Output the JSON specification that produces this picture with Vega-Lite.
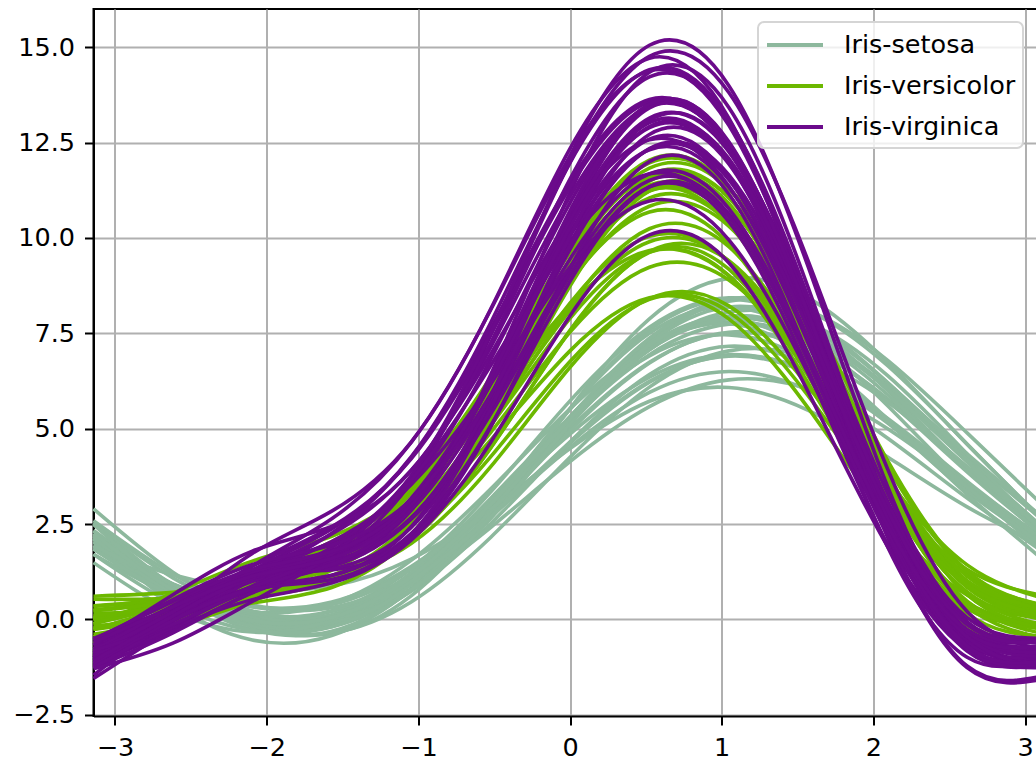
{
"$schema": "https://vega.github.io/schema/vega-lite/v6.json",
"width": 953,
"height": 707,
"autosize": {"type": "none"},
"padding": {"left": 93.5, "top": 9, "right": 0, "bottom": 45},
"background": "white",
"config": {
  "font": "DejaVu Sans",
  "view": {"stroke": "#000", "strokeWidth": 2},
  "axis": {"labelFont": "DejaVu Sans", "labelFontSize": 25.5, "labelColor": "#000", "tickColor": "#000", "tickWidth": 2, "tickSize": 9, "domainColor": "#000", "domainWidth": 2, "gridColor": "#b0b0b0", "gridWidth": 2, "title": null, "labelFlush": false, "labelOverlap": false},
  "legend": {"strokeWidth": 2}
},
"data": {"values": [
{"species":"Iris-setosa","id":1,"t":-3.1416,"y":2.21},{"species":"Iris-setosa","id":1,"t":-2.618,"y":0.82},{"species":"Iris-setosa","id":1,"t":-2.0944,"y":0.05},{"species":"Iris-setosa","id":1,"t":-1.5708,"y":0.11},{"species":"Iris-setosa","id":1,"t":-1.0472,"y":1.10},{"species":"Iris-setosa","id":1,"t":-0.5236,"y":2.90},{"species":"Iris-setosa","id":1,"t":0,"y":5.01},{"species":"Iris-setosa","id":1,"t":0.5236,"y":6.74},{"species":"Iris-setosa","id":1,"t":1.0472,"y":7.51},{"species":"Iris-setosa","id":1,"t":1.5708,"y":7.11},{"species":"Iris-setosa","id":1,"t":2.0944,"y":5.76},{"species":"Iris-setosa","id":1,"t":2.618,"y":3.97},{"species":"Iris-setosa","id":1,"t":3.1416,"y":2.21},
{"species":"Iris-setosa","id":2,"t":-3.1416,"y":2.06},{"species":"Iris-setosa","id":2,"t":-2.618,"y":0.93},{"species":"Iris-setosa","id":2,"t":-2.0944,"y":0.34},{"species":"Iris-setosa","id":2,"t":-1.5708,"y":0.46},{"species":"Iris-setosa","id":2,"t":-1.0472,"y":1.39},{"species":"Iris-setosa","id":2,"t":-0.5236,"y":3.00},{"species":"Iris-setosa","id":2,"t":0,"y":4.86},{"species":"Iris-setosa","id":2,"t":0.5236,"y":6.35},{"species":"Iris-setosa","id":2,"t":1.0472,"y":6.94},{"species":"Iris-setosa","id":2,"t":1.5708,"y":6.46},{"species":"Iris-setosa","id":2,"t":2.0944,"y":5.19},{"species":"Iris-setosa","id":2,"t":2.618,"y":3.58},{"species":"Iris-setosa","id":2,"t":3.1416,"y":2.06},
{"species":"Iris-setosa","id":3,"t":-3.1416,"y":2.02},{"species":"Iris-setosa","id":3,"t":-2.618,"y":0.77},{"species":"Iris-setosa","id":3,"t":-2.0944,"y":0.08},{"species":"Iris-setosa","id":3,"t":-1.5708,"y":0.12},{"species":"Iris-setosa","id":3,"t":-1.0472,"y":1.03},{"species":"Iris-setosa","id":3,"t":-0.5236,"y":2.68},{"species":"Iris-setosa","id":3,"t":0,"y":4.62},{"species":"Iris-setosa","id":3,"t":0.5236,"y":6.22},{"species":"Iris-setosa","id":3,"t":1.0472,"y":6.92},{"species":"Iris-setosa","id":3,"t":1.5708,"y":6.52},{"species":"Iris-setosa","id":3,"t":2.0944,"y":5.27},{"species":"Iris-setosa","id":3,"t":2.618,"y":3.62},{"species":"Iris-setosa","id":3,"t":3.1416,"y":2.02},
{"species":"Iris-setosa","id":5,"t":-3.1416,"y":2.14},{"species":"Iris-setosa","id":5,"t":-2.618,"y":0.70},{"species":"Iris-setosa","id":5,"t":-2.0944,"y":-0.11},{"species":"Iris-setosa","id":5,"t":-1.5708,"y":-0.06},{"species":"Iris-setosa","id":5,"t":-1.0472,"y":0.94},{"species":"Iris-setosa","id":5,"t":-0.5236,"y":2.77},{"species":"Iris-setosa","id":5,"t":0,"y":4.94},{"species":"Iris-setosa","id":5,"t":0.5236,"y":6.72},{"species":"Iris-setosa","id":5,"t":1.0472,"y":7.53},{"species":"Iris-setosa","id":5,"t":1.5708,"y":7.14},{"species":"Iris-setosa","id":5,"t":2.0944,"y":5.78},{"species":"Iris-setosa","id":5,"t":2.618,"y":3.95},{"species":"Iris-setosa","id":5,"t":3.1416,"y":2.14},
{"species":"Iris-setosa","id":6,"t":-3.1416,"y":2.12},{"species":"Iris-setosa","id":6,"t":-2.618,"y":0.74},{"species":"Iris-setosa","id":6,"t":-2.0944,"y":-0.06},{"species":"Iris-setosa","id":6,"t":-1.5708,"y":-0.08},{"species":"Iris-setosa","id":6,"t":-1.0472,"y":0.94},{"species":"Iris-setosa","id":6,"t":-0.5236,"y":2.99},{"species":"Iris-setosa","id":6,"t":0,"y":5.52},{"species":"Iris-setosa","id":6,"t":0.5236,"y":7.59},{"species":"Iris-setosa","id":6,"t":1.0472,"y":8.39},{"species":"Iris-setosa","id":6,"t":1.5708,"y":7.72},{"species":"Iris-setosa","id":6,"t":2.0944,"y":6.00},{"species":"Iris-setosa","id":6,"t":2.618,"y":3.95},{"species":"Iris-setosa","id":6,"t":3.1416,"y":2.12},
{"species":"Iris-setosa","id":7,"t":-3.1416,"y":1.85},{"species":"Iris-setosa","id":7,"t":-2.618,"y":0.60},{"species":"Iris-setosa","id":7,"t":-2.0944,"y":-0.13},{"species":"Iris-setosa","id":7,"t":-1.5708,"y":-0.15},{"species":"Iris-setosa","id":7,"t":-1.0472,"y":0.75},{"species":"Iris-setosa","id":7,"t":-0.5236,"y":2.51},{"species":"Iris-setosa","id":7,"t":0,"y":4.65},{"species":"Iris-setosa","id":7,"t":0.5236,"y":6.42},{"species":"Iris-setosa","id":7,"t":1.0472,"y":7.16},{"species":"Iris-setosa","id":7,"t":1.5708,"y":6.65},{"species":"Iris-setosa","id":7,"t":2.0944,"y":5.24},{"species":"Iris-setosa","id":7,"t":2.618,"y":3.48},{"species":"Iris-setosa","id":7,"t":3.1416,"y":1.85},
{"species":"Iris-setosa","id":9,"t":-3.1416,"y":1.71},{"species":"Iris-setosa","id":9,"t":-2.618,"y":0.62},{"species":"Iris-setosa","id":9,"t":-2.0944,"y":0.07},{"species":"Iris-setosa","id":9,"t":-1.5708,"y":0.21},{"species":"Iris-setosa","id":9,"t":-1.0472,"y":1.13},{"species":"Iris-setosa","id":9,"t":-0.5236,"y":2.70},{"species":"Iris-setosa","id":9,"t":0,"y":4.51},{"species":"Iris-setosa","id":9,"t":0.5236,"y":5.95},{"species":"Iris-setosa","id":9,"t":1.0472,"y":6.50},{"species":"Iris-setosa","id":9,"t":1.5708,"y":6.01},{"species":"Iris-setosa","id":9,"t":2.0944,"y":4.75},{"species":"Iris-setosa","id":9,"t":2.618,"y":3.18},{"species":"Iris-setosa","id":9,"t":3.1416,"y":1.71},
{"species":"Iris-setosa","id":11,"t":-3.1416,"y":2.32},{"species":"Iris-setosa","id":11,"t":-2.618,"y":0.84},{"species":"Iris-setosa","id":11,"t":-2.0944,"y":0.04},{"species":"Iris-setosa","id":11,"t":-1.5708,"y":0.12},{"species":"Iris-setosa","id":11,"t":-1.0472,"y":1.19},{"species":"Iris-setosa","id":11,"t":-0.5236,"y":3.09},{"species":"Iris-setosa","id":11,"t":0,"y":5.32},{"species":"Iris-setosa","id":11,"t":0.5236,"y":7.14},{"species":"Iris-setosa","id":11,"t":1.0472,"y":7.95},{"species":"Iris-setosa","id":11,"t":1.5708,"y":7.52},{"species":"Iris-setosa","id":11,"t":2.0944,"y":6.10},{"species":"Iris-setosa","id":11,"t":2.618,"y":4.20},{"species":"Iris-setosa","id":11,"t":3.1416,"y":2.32},
{"species":"Iris-setosa","id":14,"t":-3.1416,"y":1.94},{"species":"Iris-setosa","id":14,"t":-2.618,"y":0.67},{"species":"Iris-setosa","id":14,"t":-2.0944,"y":-0.02},{"species":"Iris-setosa","id":14,"t":-1.5708,"y":0.04},{"species":"Iris-setosa","id":14,"t":-1.0472,"y":0.91},{"species":"Iris-setosa","id":14,"t":-0.5236,"y":2.41},{"species":"Iris-setosa","id":14,"t":0,"y":4.14},{"species":"Iris-setosa","id":14,"t":0.5236,"y":5.58},{"species":"Iris-setosa","id":14,"t":1.0472,"y":6.28},{"species":"Iris-setosa","id":14,"t":1.5708,"y":6.04},{"species":"Iris-setosa","id":14,"t":2.0944,"y":5.00},{"species":"Iris-setosa","id":14,"t":2.618,"y":3.50},{"species":"Iris-setosa","id":14,"t":3.1416,"y":1.94},
{"species":"Iris-setosa","id":15,"t":-3.1416,"y":2.90},{"species":"Iris-setosa","id":15,"t":-2.618,"y":1.24},{"species":"Iris-setosa","id":15,"t":-2.0944,"y":0.21},{"species":"Iris-setosa","id":15,"t":-1.5708,"y":0.10},{"species":"Iris-setosa","id":15,"t":-1.0472,"y":1.06},{"species":"Iris-setosa","id":15,"t":-0.5236,"y":2.97},{"species":"Iris-setosa","id":15,"t":0,"y":5.30},{"species":"Iris-setosa","id":15,"t":0.5236,"y":7.31},{"species":"Iris-setosa","id":15,"t":1.0472,"y":8.34},{"species":"Iris-setosa","id":15,"t":1.5708,"y":8.10},{"species":"Iris-setosa","id":15,"t":2.0944,"y":6.79},{"species":"Iris-setosa","id":15,"t":2.618,"y":4.89},{"species":"Iris-setosa","id":15,"t":3.1416,"y":2.90},
{"species":"Iris-setosa","id":16,"t":-3.1416,"y":2.53},{"species":"Iris-setosa","id":16,"t":-2.618,"y":0.88},{"species":"Iris-setosa","id":16,"t":-2.0944,"y":-0.18},{"species":"Iris-setosa","id":16,"t":-1.5708,"y":-0.37},{"species":"Iris-setosa","id":16,"t":-1.0472,"y":0.62},{"species":"Iris-setosa","id":16,"t":-0.5236,"y":2.78},{"species":"Iris-setosa","id":16,"t":0,"y":5.53},{"species":"Iris-setosa","id":16,"t":0.5236,"y":7.88},{"species":"Iris-setosa","id":16,"t":1.0472,"y":8.94},{"species":"Iris-setosa","id":16,"t":1.5708,"y":8.43},{"species":"Iris-setosa","id":16,"t":2.0944,"y":6.74},{"species":"Iris-setosa","id":16,"t":2.618,"y":4.59},{"species":"Iris-setosa","id":16,"t":3.1416,"y":2.53},
{"species":"Iris-setosa","id":17,"t":-3.1416,"y":2.52},{"species":"Iris-setosa","id":17,"t":-2.618,"y":1.09},{"species":"Iris-setosa","id":17,"t":-2.0944,"y":0.14},{"species":"Iris-setosa","id":17,"t":-1.5708,"y":-0.08},{"species":"Iris-setosa","id":17,"t":-1.0472,"y":0.74},{"species":"Iris-setosa","id":17,"t":-0.5236,"y":2.65},{"species":"Iris-setosa","id":17,"t":0,"y":5.12},{"species":"Iris-setosa","id":17,"t":0.5236,"y":7.24},{"species":"Iris-setosa","id":17,"t":1.0472,"y":8.19},{"species":"Iris-setosa","id":17,"t":1.5708,"y":7.72},{"species":"Iris-setosa","id":17,"t":2.0944,"y":6.20},{"species":"Iris-setosa","id":17,"t":2.618,"y":4.30},{"species":"Iris-setosa","id":17,"t":3.1416,"y":2.52},
{"species":"Iris-setosa","id":19,"t":-3.1416,"y":2.33},{"species":"Iris-setosa","id":19,"t":-2.618,"y":0.92},{"species":"Iris-setosa","id":19,"t":-2.0944,"y":0.15},{"species":"Iris-setosa","id":19,"t":-1.5708,"y":0.23},{"species":"Iris-setosa","id":19,"t":-1.0472,"y":1.33},{"species":"Iris-setosa","id":19,"t":-0.5236,"y":3.34},{"species":"Iris-setosa","id":19,"t":0,"y":5.73},{"species":"Iris-setosa","id":19,"t":0.5236,"y":7.66},{"species":"Iris-setosa","id":19,"t":1.0472,"y":8.43},{"species":"Iris-setosa","id":19,"t":1.5708,"y":7.83},{"species":"Iris-setosa","id":19,"t":2.0944,"y":6.21},{"species":"Iris-setosa","id":19,"t":2.618,"y":4.20},{"species":"Iris-setosa","id":19,"t":3.1416,"y":2.33},
{"species":"Iris-setosa","id":20,"t":-3.1416,"y":2.11},{"species":"Iris-setosa","id":20,"t":-2.618,"y":0.67},{"species":"Iris-setosa","id":20,"t":-2.0944,"y":-0.17},{"species":"Iris-setosa","id":20,"t":-1.5708,"y":-0.19},{"species":"Iris-setosa","id":20,"t":-1.0472,"y":0.81},{"species":"Iris-setosa","id":20,"t":-0.5236,"y":2.75},{"species":"Iris-setosa","id":20,"t":0,"y":5.11},{"species":"Iris-setosa","id":20,"t":0.5236,"y":7.07},{"species":"Iris-setosa","id":20,"t":1.0472,"y":7.91},{"species":"Iris-setosa","id":20,"t":1.5708,"y":7.41},{"species":"Iris-setosa","id":20,"t":2.0944,"y":5.89},{"species":"Iris-setosa","id":20,"t":2.618,"y":3.95},{"species":"Iris-setosa","id":20,"t":3.1416,"y":2.11},
{"species":"Iris-setosa","id":21,"t":-3.1416,"y":2.12},{"species":"Iris-setosa","id":21,"t":-2.618,"y":0.82},{"species":"Iris-setosa","id":21,"t":-2.0944,"y":0.20},{"species":"Iris-setosa","id":21,"t":-1.5708,"y":0.42},{"species":"Iris-setosa","id":21,"t":-1.0472,"y":1.55},{"species":"Iris-setosa","id":21,"t":-0.5236,"y":3.42},{"species":"Iris-setosa","id":21,"t":0,"y":5.52},{"species":"Iris-setosa","id":21,"t":0.5236,"y":7.16},{"species":"Iris-setosa","id":21,"t":1.0472,"y":7.79},{"species":"Iris-setosa","id":21,"t":1.5708,"y":7.22},{"species":"Iris-setosa","id":21,"t":2.0944,"y":5.74},{"species":"Iris-setosa","id":21,"t":2.618,"y":3.87},{"species":"Iris-setosa","id":21,"t":3.1416,"y":2.12},
{"species":"Iris-setosa","id":23,"t":-3.1416,"y":2.25},{"species":"Iris-setosa","id":23,"t":-2.618,"y":0.76},{"species":"Iris-setosa","id":23,"t":-2.0944,"y":-0.19},{"species":"Iris-setosa","id":23,"t":-1.5708,"y":-0.35},{"species":"Iris-setosa","id":23,"t":-1.0472,"y":0.46},{"species":"Iris-setosa","id":23,"t":-0.5236,"y":2.15},{"species":"Iris-setosa","id":23,"t":0,"y":4.25},{"species":"Iris-setosa","id":23,"t":0.5236,"y":6.09},{"species":"Iris-setosa","id":23,"t":1.0472,"y":7.04},{"species":"Iris-setosa","id":23,"t":1.5708,"y":6.85},{"species":"Iris-setosa","id":23,"t":2.0944,"y":5.70},{"species":"Iris-setosa","id":23,"t":2.618,"y":4.01},{"species":"Iris-setosa","id":23,"t":3.1416,"y":2.25},
{"species":"Iris-setosa","id":24,"t":-3.1416,"y":1.91},{"species":"Iris-setosa","id":24,"t":-2.618,"y":0.92},{"species":"Iris-setosa","id":24,"t":-2.0944,"y":0.33},{"species":"Iris-setosa","id":24,"t":-1.5708,"y":0.31},{"species":"Iris-setosa","id":24,"t":-1.0472,"y":1.17},{"species":"Iris-setosa","id":24,"t":-0.5236,"y":3.00},{"species":"Iris-setosa","id":24,"t":0,"y":5.31},{"species":"Iris-setosa","id":24,"t":0.5236,"y":7.16},{"species":"Iris-setosa","id":24,"t":1.0472,"y":7.75},{"species":"Iris-setosa","id":24,"t":1.5708,"y":6.91},{"species":"Iris-setosa","id":24,"t":2.0944,"y":5.18},{"species":"Iris-setosa","id":24,"t":2.618,"y":3.35},{"species":"Iris-setosa","id":24,"t":3.1416,"y":1.91},
{"species":"Iris-setosa","id":25,"t":-3.1416,"y":1.49},{"species":"Iris-setosa","id":25,"t":-2.618,"y":0.22},{"species":"Iris-setosa","id":25,"t":-2.0944,"y":-0.33},{"species":"Iris-setosa","id":25,"t":-1.5708,"y":-0.01},{"species":"Iris-setosa","id":25,"t":-1.0472,"y":1.23},{"species":"Iris-setosa","id":25,"t":-0.5236,"y":3.17},{"species":"Iris-setosa","id":25,"t":0,"y":5.29},{"species":"Iris-setosa","id":25,"t":0.5236,"y":6.91},{"species":"Iris-setosa","id":25,"t":1.0472,"y":7.46},{"species":"Iris-setosa","id":25,"t":1.5708,"y":6.79},{"species":"Iris-setosa","id":25,"t":2.0944,"y":5.22},{"species":"Iris-setosa","id":25,"t":2.618,"y":3.28},{"species":"Iris-setosa","id":25,"t":3.1416,"y":1.49},
{"species":"Iris-setosa","id":33,"t":-3.1416,"y":2.18},{"species":"Iris-setosa","id":33,"t":-2.618,"y":0.41},{"species":"Iris-setosa","id":33,"t":-2.0944,"y":-0.54},{"species":"Iris-setosa","id":33,"t":-1.5708,"y":-0.42},{"species":"Iris-setosa","id":33,"t":-1.0472,"y":0.79},{"species":"Iris-setosa","id":33,"t":-0.5236,"y":2.84},{"species":"Iris-setosa","id":33,"t":0,"y":5.18},{"species":"Iris-setosa","id":33,"t":0.5236,"y":7.11},{"species":"Iris-setosa","id":33,"t":1.0472,"y":8.06},{"species":"Iris-setosa","id":33,"t":1.5708,"y":7.78},{"species":"Iris-setosa","id":33,"t":2.0944,"y":6.39},{"species":"Iris-setosa","id":33,"t":2.618,"y":4.34},{"species":"Iris-setosa","id":33,"t":3.1416,"y":2.18},
{"species":"Iris-setosa","id":34,"t":-3.1416,"y":2.49},{"species":"Iris-setosa","id":34,"t":-2.618,"y":0.75},{"species":"Iris-setosa","id":34,"t":-2.0944,"y":-0.27},{"species":"Iris-setosa","id":34,"t":-1.5708,"y":-0.31},{"species":"Iris-setosa","id":34,"t":-1.0472,"y":0.78},{"species":"Iris-setosa","id":34,"t":-0.5236,"y":2.83},{"species":"Iris-setosa","id":34,"t":0,"y":5.29},{"species":"Iris-setosa","id":34,"t":0.5236,"y":7.37},{"species":"Iris-setosa","id":34,"t":1.0472,"y":8.40},{"species":"Iris-setosa","id":34,"t":1.5708,"y":8.09},{"species":"Iris-setosa","id":34,"t":2.0944,"y":6.65},{"species":"Iris-setosa","id":34,"t":2.618,"y":4.60},{"species":"Iris-setosa","id":34,"t":3.1416,"y":2.49},
{"species":"Iris-setosa","id":37,"t":-3.1416,"y":2.59},{"species":"Iris-setosa","id":37,"t":-2.618,"y":1.19},{"species":"Iris-setosa","id":37,"t":-2.0944,"y":0.38},{"species":"Iris-setosa","id":37,"t":-1.5708,"y":0.39},{"species":"Iris-setosa","id":37,"t":-1.0472,"y":1.33},{"species":"Iris-setosa","id":37,"t":-0.5236,"y":3.09},{"species":"Iris-setosa","id":37,"t":0,"y":5.19},{"species":"Iris-setosa","id":37,"t":0.5236,"y":6.94},{"species":"Iris-setosa","id":37,"t":1.0472,"y":7.74},{"species":"Iris-setosa","id":37,"t":1.5708,"y":7.39},{"species":"Iris-setosa","id":37,"t":2.0944,"y":6.10},{"species":"Iris-setosa","id":37,"t":2.618,"y":4.34},{"species":"Iris-setosa","id":37,"t":3.1416,"y":2.59},
{"species":"Iris-setosa","id":42,"t":-3.1416,"y":1.88},{"species":"Iris-setosa","id":42,"t":-2.618,"y":1.17},{"species":"Iris-setosa","id":42,"t":-2.0944,"y":0.80},{"species":"Iris-setosa","id":42,"t":-1.5708,"y":0.88},{"species":"Iris-setosa","id":42,"t":-1.0472,"y":1.58},{"species":"Iris-setosa","id":42,"t":-0.5236,"y":2.90},{"species":"Iris-setosa","id":42,"t":0,"y":4.48},{"species":"Iris-setosa","id":42,"t":0.5236,"y":5.72},{"species":"Iris-setosa","id":42,"t":1.0472,"y":6.08},{"species":"Iris-setosa","id":42,"t":1.5708,"y":5.48},{"species":"Iris-setosa","id":42,"t":2.0944,"y":4.26},{"species":"Iris-setosa","id":42,"t":2.618,"y":2.95},{"species":"Iris-setosa","id":42,"t":3.1416,"y":1.88},
{"species":"Iris-setosa","id":44,"t":-3.1416,"y":1.94},{"species":"Iris-setosa","id":44,"t":-2.618,"y":0.92},{"species":"Iris-setosa","id":44,"t":-2.0944,"y":0.22},{"species":"Iris-setosa","id":44,"t":-1.5708,"y":0.04},{"species":"Iris-setosa","id":44,"t":-1.0472,"y":0.78},{"species":"Iris-setosa","id":44,"t":-0.5236,"y":2.65},{"species":"Iris-setosa","id":44,"t":0,"y":5.14},{"species":"Iris-setosa","id":44,"t":0.5236,"y":7.19},{"species":"Iris-setosa","id":44,"t":1.0472,"y":7.89},{"species":"Iris-setosa","id":44,"t":1.5708,"y":7.04},{"species":"Iris-setosa","id":44,"t":2.0944,"y":5.25},{"species":"Iris-setosa","id":44,"t":2.618,"y":3.38},{"species":"Iris-setosa","id":44,"t":3.1416,"y":1.94},
{"species":"Iris-setosa","id":45,"t":-3.1416,"y":1.71},{"species":"Iris-setosa","id":45,"t":-2.618,"y":0.41},{"species":"Iris-setosa","id":45,"t":-2.0944,"y":-0.29},{"species":"Iris-setosa","id":45,"t":-1.5708,"y":-0.19},{"species":"Iris-setosa","id":45,"t":-1.0472,"y":0.92},{"species":"Iris-setosa","id":45,"t":-0.5236,"y":3.01},{"species":"Iris-setosa","id":45,"t":0,"y":5.51},{"species":"Iris-setosa","id":45,"t":0.5236,"y":7.50},{"species":"Iris-setosa","id":45,"t":1.0472,"y":8.19},{"species":"Iris-setosa","id":45,"t":1.5708,"y":7.41},{"species":"Iris-setosa","id":45,"t":2.0944,"y":5.60},{"species":"Iris-setosa","id":45,"t":2.618,"y":3.51},{"species":"Iris-setosa","id":45,"t":3.1416,"y":1.71},
{"species":"Iris-setosa","id":48,"t":-3.1416,"y":1.85},{"species":"Iris-setosa","id":48,"t":-2.618,"y":0.61},{"species":"Iris-setosa","id":48,"t":-2.0944,"y":-0.05},{"species":"Iris-setosa","id":48,"t":-1.5708,"y":0.05},{"species":"Iris-setosa","id":48,"t":-1.0472,"y":1.01},{"species":"Iris-setosa","id":48,"t":-0.5236,"y":2.69},{"species":"Iris-setosa","id":48,"t":0,"y":4.65},{"species":"Iris-setosa","id":48,"t":0.5236,"y":6.24},{"species":"Iris-setosa","id":48,"t":1.0472,"y":6.90},{"species":"Iris-setosa","id":48,"t":1.5708,"y":6.45},{"species":"Iris-setosa","id":48,"t":2.0944,"y":5.15},{"species":"Iris-setosa","id":48,"t":2.618,"y":3.47},{"species":"Iris-setosa","id":48,"t":3.1416,"y":1.85},
{"species":"Iris-setosa","id":49,"t":-3.1416,"y":2.25},{"species":"Iris-setosa","id":49,"t":-2.618,"y":0.77},{"species":"Iris-setosa","id":49,"t":-2.0944,"y":-0.03},{"species":"Iris-setosa","id":49,"t":-1.5708,"y":0.05},{"species":"Iris-setosa","id":49,"t":-1.0472,"y":1.12},{"species":"Iris-setosa","id":49,"t":-0.5236,"y":3.02},{"species":"Iris-setosa","id":49,"t":0,"y":5.25},{"species":"Iris-setosa","id":49,"t":0.5236,"y":7.07},{"species":"Iris-setosa","id":49,"t":1.0472,"y":7.88},{"species":"Iris-setosa","id":49,"t":1.5708,"y":7.45},{"species":"Iris-setosa","id":49,"t":2.0944,"y":6.03},{"species":"Iris-setosa","id":49,"t":2.618,"y":4.13},{"species":"Iris-setosa","id":49,"t":3.1416,"y":2.25},
{"species":"Iris-versicolor","id":51,"t":-3.1416,"y":0.25},{"species":"Iris-versicolor","id":51,"t":-2.618,"y":0.49},{"species":"Iris-versicolor","id":51,"t":-2.0944,"y":1.04},{"species":"Iris-versicolor","id":51,"t":-1.5708,"y":1.75},{"species":"Iris-versicolor","id":51,"t":-1.0472,"y":3.32},{"species":"Iris-versicolor","id":51,"t":-0.5236,"y":6.21},{"species":"Iris-versicolor","id":51,"t":0,"y":9.65},{"species":"Iris-versicolor","id":51,"t":0.5236,"y":11.83},{"species":"Iris-versicolor","id":51,"t":1.0472,"y":11.28},{"species":"Iris-versicolor","id":51,"t":1.5708,"y":8.15},{"species":"Iris-versicolor","id":51,"t":2.0944,"y":4.16},{"species":"Iris-versicolor","id":51,"t":2.618,"y":1.27},{"species":"Iris-versicolor","id":51,"t":3.1416,"y":0.25},
{"species":"Iris-versicolor","id":52,"t":-3.1416,"y":0.03},{"species":"Iris-versicolor","id":52,"t":-2.618,"y":0.33},{"species":"Iris-versicolor","id":52,"t":-2.0944,"y":0.80},{"species":"Iris-versicolor","id":52,"t":-1.5708,"y":1.33},{"species":"Iris-versicolor","id":52,"t":-1.0472,"y":2.71},{"species":"Iris-versicolor","id":52,"t":-0.5236,"y":5.52},{"species":"Iris-versicolor","id":52,"t":0,"y":9.03},{"species":"Iris-versicolor","id":52,"t":0.5236,"y":11.32},{"species":"Iris-versicolor","id":52,"t":1.0472,"y":10.85},{"species":"Iris-versicolor","id":52,"t":1.5708,"y":7.73},{"species":"Iris-versicolor","id":52,"t":2.0944,"y":3.75},{"species":"Iris-versicolor","id":52,"t":2.618,"y":0.93},{"species":"Iris-versicolor","id":52,"t":3.1416,"y":0.03},
{"species":"Iris-versicolor","id":53,"t":-3.1416,"y":-0.02},{"species":"Iris-versicolor","id":53,"t":-2.618,"y":0.38},{"species":"Iris-versicolor","id":53,"t":-2.0944,"y":1.04},{"species":"Iris-versicolor","id":53,"t":-1.5708,"y":1.78},{"species":"Iris-versicolor","id":53,"t":-1.0472,"y":3.35},{"species":"Iris-versicolor","id":53,"t":-0.5236,"y":6.27},{"species":"Iris-versicolor","id":53,"t":0,"y":9.78},{"species":"Iris-versicolor","id":53,"t":0.5236,"y":11.97},{"species":"Iris-versicolor","id":53,"t":1.0472,"y":11.31},{"species":"Iris-versicolor","id":53,"t":1.5708,"y":7.98},{"species":"Iris-versicolor","id":53,"t":2.0944,"y":3.81},{"species":"Iris-versicolor","id":53,"t":2.618,"y":0.89},{"species":"Iris-versicolor","id":53,"t":3.1416,"y":-0.02},
{"species":"Iris-versicolor","id":54,"t":-3.1416,"y":-0.11},{"species":"Iris-versicolor","id":54,"t":-2.618,"y":0.40},{"species":"Iris-versicolor","id":54,"t":-2.0944,"y":1.02},{"species":"Iris-versicolor","id":54,"t":-1.5708,"y":1.59},{"species":"Iris-versicolor","id":54,"t":-1.0472,"y":2.77},{"species":"Iris-versicolor","id":54,"t":-0.5236,"y":5.08},{"species":"Iris-versicolor","id":54,"t":0,"y":7.89},{"species":"Iris-versicolor","id":54,"t":0.5236,"y":9.63},{"species":"Iris-versicolor","id":54,"t":1.0472,"y":9.01},{"species":"Iris-versicolor","id":54,"t":1.5708,"y":6.19},{"species":"Iris-versicolor","id":54,"t":2.0944,"y":2.76},{"species":"Iris-versicolor","id":54,"t":2.618,"y":0.45},{"species":"Iris-versicolor","id":54,"t":3.1416,"y":-0.11},
{"species":"Iris-versicolor","id":55,"t":-3.1416,"y":0.00},{"species":"Iris-versicolor","id":55,"t":-2.618,"y":0.51},{"species":"Iris-versicolor","id":55,"t":-2.0944,"y":1.17},{"species":"Iris-versicolor","id":55,"t":-1.5708,"y":1.80},{"species":"Iris-versicolor","id":55,"t":-1.0472,"y":3.17},{"species":"Iris-versicolor","id":55,"t":-0.5236,"y":5.88},{"species":"Iris-versicolor","id":55,"t":0,"y":9.20},{"species":"Iris-versicolor","id":55,"t":0.5236,"y":11.28},{"species":"Iris-versicolor","id":55,"t":1.0472,"y":10.62},{"species":"Iris-versicolor","id":55,"t":1.5708,"y":7.40},{"species":"Iris-versicolor","id":55,"t":2.0944,"y":3.42},{"species":"Iris-versicolor","id":55,"t":2.618,"y":0.71},{"species":"Iris-versicolor","id":55,"t":3.1416,"y":0.00},
{"species":"Iris-versicolor","id":57,"t":-3.1416,"y":-0.25},{"species":"Iris-versicolor","id":57,"t":-2.618,"y":0.12},{"species":"Iris-versicolor","id":57,"t":-2.0944,"y":0.63},{"species":"Iris-versicolor","id":57,"t":-1.5708,"y":1.15},{"species":"Iris-versicolor","id":57,"t":-1.0472,"y":2.56},{"species":"Iris-versicolor","id":57,"t":-0.5236,"y":5.49},{"species":"Iris-versicolor","id":57,"t":0,"y":9.15},{"species":"Iris-versicolor","id":57,"t":0.5236,"y":11.56},{"species":"Iris-versicolor","id":57,"t":1.0472,"y":11.05},{"species":"Iris-versicolor","id":57,"t":1.5708,"y":7.75},{"species":"Iris-versicolor","id":57,"t":2.0944,"y":3.58},{"species":"Iris-versicolor","id":57,"t":2.618,"y":0.65},{"species":"Iris-versicolor","id":57,"t":3.1416,"y":-0.25},
{"species":"Iris-versicolor","id":58,"t":-3.1416,"y":0.16},{"species":"Iris-versicolor","id":58,"t":-2.618,"y":0.27},{"species":"Iris-versicolor","id":58,"t":-2.0944,"y":0.60},{"species":"Iris-versicolor","id":58,"t":-1.5708,"y":1.06},{"species":"Iris-versicolor","id":58,"t":-1.0472,"y":2.17},{"species":"Iris-versicolor","id":58,"t":-0.5236,"y":4.26},{"species":"Iris-versicolor","id":58,"t":0,"y":6.76},{"species":"Iris-versicolor","id":58,"t":0.5236,"y":8.39},{"species":"Iris-versicolor","id":58,"t":1.0472,"y":8.06},{"species":"Iris-versicolor","id":58,"t":1.5708,"y":5.86},{"species":"Iris-versicolor","id":58,"t":2.0944,"y":3.03},{"species":"Iris-versicolor","id":58,"t":2.618,"y":0.94},{"species":"Iris-versicolor","id":58,"t":3.1416,"y":0.16},
{"species":"Iris-versicolor","id":59,"t":-3.1416,"y":0.07},{"species":"Iris-versicolor","id":59,"t":-2.618,"y":0.36},{"species":"Iris-versicolor","id":59,"t":-2.0944,"y":0.98},{"species":"Iris-versicolor","id":59,"t":-1.5708,"y":1.77},{"species":"Iris-versicolor","id":59,"t":-1.0472,"y":3.33},{"species":"Iris-versicolor","id":59,"t":-0.5236,"y":6.07},{"species":"Iris-versicolor","id":59,"t":0,"y":9.27},{"species":"Iris-versicolor","id":59,"t":0.5236,"y":11.23},{"species":"Iris-versicolor","id":59,"t":1.0472,"y":10.60},{"species":"Iris-versicolor","id":59,"t":1.5708,"y":7.57},{"species":"Iris-versicolor","id":59,"t":2.0944,"y":3.75},{"species":"Iris-versicolor","id":59,"t":2.618,"y":1.01},{"species":"Iris-versicolor","id":59,"t":3.1416,"y":0.07},
{"species":"Iris-versicolor","id":60,"t":-3.1416,"y":-0.22},{"species":"Iris-versicolor","id":60,"t":-2.618,"y":0.16},{"species":"Iris-versicolor","id":60,"t":-2.0944,"y":0.60},{"species":"Iris-versicolor","id":60,"t":-1.5708,"y":0.98},{"species":"Iris-versicolor","id":60,"t":-1.0472,"y":2.08},{"species":"Iris-versicolor","id":60,"t":-0.5236,"y":4.49},{"species":"Iris-versicolor","id":60,"t":0,"y":7.58},{"species":"Iris-versicolor","id":60,"t":0.5236,"y":9.62},{"species":"Iris-versicolor","id":60,"t":1.0472,"y":9.18},{"species":"Iris-versicolor","id":60,"t":1.5708,"y":6.38},{"species":"Iris-versicolor","id":60,"t":2.0944,"y":2.85},{"species":"Iris-versicolor","id":60,"t":2.618,"y":0.44},{"species":"Iris-versicolor","id":60,"t":3.1416,"y":-0.22},
{"species":"Iris-versicolor","id":61,"t":-3.1416,"y":0.04},{"species":"Iris-versicolor","id":61,"t":-2.618,"y":0.37},{"species":"Iris-versicolor","id":61,"t":-2.0944,"y":0.92},{"species":"Iris-versicolor","id":61,"t":-1.5708,"y":1.54},{"species":"Iris-versicolor","id":61,"t":-1.0472,"y":2.69},{"species":"Iris-versicolor","id":61,"t":-0.5236,"y":4.70},{"species":"Iris-versicolor","id":61,"t":0,"y":7.04},{"species":"Iris-versicolor","id":61,"t":0.5236,"y":8.43},{"species":"Iris-versicolor","id":61,"t":1.0472,"y":7.88},{"species":"Iris-versicolor","id":61,"t":1.5708,"y":5.54},{"species":"Iris-versicolor","id":61,"t":2.0944,"y":2.65},{"species":"Iris-versicolor","id":61,"t":2.618,"y":0.64},{"species":"Iris-versicolor","id":61,"t":3.1416,"y":0.04},
{"species":"Iris-versicolor","id":63,"t":-3.1416,"y":0.24},{"species":"Iris-versicolor","id":63,"t":-2.618,"y":0.54},{"species":"Iris-versicolor","id":63,"t":-2.0944,"y":1.20},{"species":"Iris-versicolor","id":63,"t":-1.5708,"y":2.04},{"species":"Iris-versicolor","id":63,"t":-1.0472,"y":3.47},{"species":"Iris-versicolor","id":63,"t":-0.5236,"y":5.74},{"species":"Iris-versicolor","id":63,"t":0,"y":8.24},{"species":"Iris-versicolor","id":63,"t":0.5236,"y":9.67},{"species":"Iris-versicolor","id":63,"t":1.0472,"y":9.01},{"species":"Iris-versicolor","id":63,"t":1.5708,"y":6.44},{"species":"Iris-versicolor","id":63,"t":2.0944,"y":3.28},{"species":"Iris-versicolor","id":63,"t":2.618,"y":1.01},{"species":"Iris-versicolor","id":63,"t":3.1416,"y":0.24},
{"species":"Iris-versicolor","id":64,"t":-3.1416,"y":-0.39},{"species":"Iris-versicolor","id":64,"t":-2.618,"y":0.01},{"species":"Iris-versicolor","id":64,"t":-2.0944,"y":0.66},{"species":"Iris-versicolor","id":64,"t":-1.5708,"y":1.41},{"species":"Iris-versicolor","id":64,"t":-1.0472,"y":2.94},{"species":"Iris-versicolor","id":64,"t":-0.5236,"y":5.72},{"species":"Iris-versicolor","id":64,"t":0,"y":9.01},{"species":"Iris-versicolor","id":64,"t":0.5236,"y":11.05},{"species":"Iris-versicolor","id":64,"t":1.0472,"y":10.39},{"species":"Iris-versicolor","id":64,"t":1.5708,"y":7.21},{"species":"Iris-versicolor","id":64,"t":2.0944,"y":3.26},{"species":"Iris-versicolor","id":64,"t":2.618,"y":0.48},{"species":"Iris-versicolor","id":64,"t":3.1416,"y":-0.39},
{"species":"Iris-versicolor","id":65,"t":-3.1416,"y":0.36},{"species":"Iris-versicolor","id":65,"t":-2.618,"y":0.52},{"species":"Iris-versicolor","id":65,"t":-2.0944,"y":0.77},{"species":"Iris-versicolor","id":65,"t":-1.5708,"y":1.06},{"species":"Iris-versicolor","id":65,"t":-1.0472,"y":2.12},{"species":"Iris-versicolor","id":65,"t":-0.5236,"y":4.50},{"species":"Iris-versicolor","id":65,"t":0,"y":7.56},{"species":"Iris-versicolor","id":65,"t":0.5236,"y":9.65},{"species":"Iris-versicolor","id":65,"t":1.0472,"y":9.40},{"species":"Iris-versicolor","id":65,"t":1.5708,"y":6.86},{"species":"Iris-versicolor","id":65,"t":2.0944,"y":3.55},{"species":"Iris-versicolor","id":65,"t":2.618,"y":1.17},{"species":"Iris-versicolor","id":65,"t":3.1416,"y":0.36},
{"species":"Iris-versicolor","id":66,"t":-3.1416,"y":0.34},{"species":"Iris-versicolor","id":66,"t":-2.618,"y":0.59},{"species":"Iris-versicolor","id":66,"t":-2.0944,"y":1.07},{"species":"Iris-versicolor","id":66,"t":-1.5708,"y":1.64},{"species":"Iris-versicolor","id":66,"t":-1.0472,"y":3.04},{"species":"Iris-versicolor","id":66,"t":-0.5236,"y":5.79},{"species":"Iris-versicolor","id":66,"t":0,"y":9.14},{"species":"Iris-versicolor","id":66,"t":0.5236,"y":11.31},{"species":"Iris-versicolor","id":66,"t":1.0472,"y":10.83},{"species":"Iris-versicolor","id":66,"t":1.5708,"y":7.84},{"species":"Iris-versicolor","id":66,"t":2.0944,"y":4.01},{"species":"Iris-versicolor","id":66,"t":2.618,"y":1.26},{"species":"Iris-versicolor","id":66,"t":3.1416,"y":0.34},
{"species":"Iris-versicolor","id":69,"t":-3.1416,"y":-0.12},{"species":"Iris-versicolor","id":69,"t":-2.618,"y":0.69},{"species":"Iris-versicolor","id":69,"t":-2.0944,"y":1.53},{"species":"Iris-versicolor","id":69,"t":-1.5708,"y":2.18},{"species":"Iris-versicolor","id":69,"t":-1.0472,"y":3.43},{"species":"Iris-versicolor","id":69,"t":-0.5236,"y":5.88},{"species":"Iris-versicolor","id":69,"t":0,"y":8.88},{"species":"Iris-versicolor","id":69,"t":0.5236,"y":10.68},{"species":"Iris-versicolor","id":69,"t":1.0472,"y":9.84},{"species":"Iris-versicolor","id":69,"t":1.5708,"y":6.58},{"species":"Iris-versicolor","id":69,"t":2.0944,"y":2.74},{"species":"Iris-versicolor","id":69,"t":2.618,"y":0.29},{"species":"Iris-versicolor","id":69,"t":3.1416,"y":-0.12},
{"species":"Iris-versicolor","id":71,"t":-3.1416,"y":-0.63},{"species":"Iris-versicolor","id":71,"t":-2.618,"y":-0.03},{"species":"Iris-versicolor","id":71,"t":-2.0944,"y":0.56},{"species":"Iris-versicolor","id":71,"t":-1.5708,"y":0.97},{"species":"Iris-versicolor","id":71,"t":-1.0472,"y":2.24},{"species":"Iris-versicolor","id":71,"t":-0.5236,"y":5.17},{"species":"Iris-versicolor","id":71,"t":0,"y":8.97},{"species":"Iris-versicolor","id":71,"t":0.5236,"y":11.49},{"species":"Iris-versicolor","id":71,"t":1.0472,"y":10.90},{"species":"Iris-versicolor","id":71,"t":1.5708,"y":7.37},{"species":"Iris-versicolor","id":71,"t":2.0944,"y":2.98},{"species":"Iris-versicolor","id":71,"t":2.618,"y":0.06},{"species":"Iris-versicolor","id":71,"t":3.1416,"y":-0.63},
{"species":"Iris-versicolor","id":73,"t":-3.1416,"y":-0.45},{"species":"Iris-versicolor","id":73,"t":-2.618,"y":0.26},{"species":"Iris-versicolor","id":73,"t":-2.0944,"y":1.14},{"species":"Iris-versicolor","id":73,"t":-1.5708,"y":1.95},{"species":"Iris-versicolor","id":73,"t":-1.0472,"y":3.44},{"species":"Iris-versicolor","id":73,"t":-0.5236,"y":6.15},{"species":"Iris-versicolor","id":73,"t":0,"y":9.35},{"species":"Iris-versicolor","id":73,"t":0.5236,"y":11.25},{"species":"Iris-versicolor","id":73,"t":1.0472,"y":10.37},{"species":"Iris-versicolor","id":73,"t":1.5708,"y":6.95},{"species":"Iris-versicolor","id":73,"t":2.0944,"y":2.87},{"species":"Iris-versicolor","id":73,"t":2.618,"y":0.16},{"species":"Iris-versicolor","id":73,"t":3.1416,"y":-0.45},
{"species":"Iris-versicolor","id":75,"t":-3.1416,"y":0.23},{"species":"Iris-versicolor","id":75,"t":-2.618,"y":0.48},{"species":"Iris-versicolor","id":75,"t":-2.0944,"y":0.99},{"species":"Iris-versicolor","id":75,"t":-1.5708,"y":1.63},{"species":"Iris-versicolor","id":75,"t":-1.0472,"y":3.04},{"species":"Iris-versicolor","id":75,"t":-0.5236,"y":5.67},{"species":"Iris-versicolor","id":75,"t":0,"y":8.83},{"species":"Iris-versicolor","id":75,"t":0.5236,"y":10.83},{"species":"Iris-versicolor","id":75,"t":1.0472,"y":10.31},{"species":"Iris-versicolor","id":75,"t":1.5708,"y":7.43},{"species":"Iris-versicolor","id":75,"t":2.0944,"y":3.76},{"species":"Iris-versicolor","id":75,"t":2.618,"y":1.13},{"species":"Iris-versicolor","id":75,"t":3.1416,"y":0.23},
{"species":"Iris-versicolor","id":77,"t":-3.1416,"y":0.01},{"species":"Iris-versicolor","id":77,"t":-2.618,"y":0.46},{"species":"Iris-versicolor","id":77,"t":-2.0944,"y":1.20},{"species":"Iris-versicolor","id":77,"t":-1.5708,"y":2.01},{"species":"Iris-versicolor","id":77,"t":-1.0472,"y":3.57},{"species":"Iris-versicolor","id":77,"t":-0.5236,"y":6.35},{"species":"Iris-versicolor","id":77,"t":0,"y":9.61},{"species":"Iris-versicolor","id":77,"t":0.5236,"y":11.58},{"species":"Iris-versicolor","id":77,"t":1.0472,"y":10.85},{"species":"Iris-versicolor","id":77,"t":1.5708,"y":7.61},{"species":"Iris-versicolor","id":77,"t":2.0944,"y":3.62},{"species":"Iris-versicolor","id":77,"t":2.618,"y":0.84},{"species":"Iris-versicolor","id":77,"t":3.1416,"y":0.01},
{"species":"Iris-versicolor","id":78,"t":-3.1416,"y":-0.26},{"species":"Iris-versicolor","id":78,"t":-2.618,"y":0.38},{"species":"Iris-versicolor","id":78,"t":-2.0944,"y":1.11},{"species":"Iris-versicolor","id":78,"t":-1.5708,"y":1.74},{"species":"Iris-versicolor","id":78,"t":-1.0472,"y":3.17},{"species":"Iris-versicolor","id":78,"t":-0.5236,"y":6.10},{"species":"Iris-versicolor","id":78,"t":0,"y":9.74},{"species":"Iris-versicolor","id":78,"t":0.5236,"y":12.04},{"species":"Iris-versicolor","id":78,"t":1.0472,"y":11.31},{"species":"Iris-versicolor","id":78,"t":1.5708,"y":7.74},{"species":"Iris-versicolor","id":78,"t":2.0944,"y":3.36},{"species":"Iris-versicolor","id":78,"t":2.618,"y":0.44},{"species":"Iris-versicolor","id":78,"t":3.1416,"y":-0.26},
{"species":"Iris-versicolor","id":80,"t":-3.1416,"y":0.53},{"species":"Iris-versicolor","id":80,"t":-2.618,"y":0.57},{"species":"Iris-versicolor","id":80,"t":-2.0944,"y":0.89},{"species":"Iris-versicolor","id":80,"t":-1.5708,"y":1.43},{"species":"Iris-versicolor","id":80,"t":-1.0472,"y":2.66},{"species":"Iris-versicolor","id":80,"t":-0.5236,"y":4.90},{"species":"Iris-versicolor","id":80,"t":0,"y":7.53},{"species":"Iris-versicolor","id":80,"t":0.5236,"y":9.23},{"species":"Iris-versicolor","id":80,"t":1.0472,"y":8.90},{"species":"Iris-versicolor","id":80,"t":1.5708,"y":6.63},{"species":"Iris-versicolor","id":80,"t":2.0944,"y":3.67},{"species":"Iris-versicolor","id":80,"t":2.618,"y":1.43},{"species":"Iris-versicolor","id":80,"t":3.1416,"y":0.53},
{"species":"Iris-versicolor","id":84,"t":-3.1416,"y":-0.86},{"species":"Iris-versicolor","id":84,"t":-2.618,"y":-0.14},{"species":"Iris-versicolor","id":84,"t":-2.0944,"y":0.74},{"species":"Iris-versicolor","id":84,"t":-1.5708,"y":1.54},{"species":"Iris-versicolor","id":84,"t":-1.0472,"y":3.07},{"species":"Iris-versicolor","id":84,"t":-0.5236,"y":5.92},{"species":"Iris-versicolor","id":84,"t":0,"y":9.34},{"species":"Iris-versicolor","id":84,"t":0.5236,"y":11.39},{"species":"Iris-versicolor","id":84,"t":1.0472,"y":10.52},{"species":"Iris-versicolor","id":84,"t":1.5708,"y":6.94},{"species":"Iris-versicolor","id":84,"t":2.0944,"y":2.65},{"species":"Iris-versicolor","id":84,"t":2.618,"y":-0.21},{"species":"Iris-versicolor","id":84,"t":3.1416,"y":-0.86},
{"species":"Iris-versicolor","id":86,"t":-3.1416,"y":-0.26},{"species":"Iris-versicolor","id":86,"t":-2.618,"y":0.03},{"species":"Iris-versicolor","id":86,"t":-2.0944,"y":0.43},{"species":"Iris-versicolor","id":86,"t":-1.5708,"y":0.84},{"species":"Iris-versicolor","id":86,"t":-1.0472,"y":2.16},{"species":"Iris-versicolor","id":86,"t":-0.5236,"y":5.05},{"species":"Iris-versicolor","id":86,"t":0,"y":8.74},{"species":"Iris-versicolor","id":86,"t":0.5236,"y":11.23},{"species":"Iris-versicolor","id":86,"t":1.0472,"y":10.82},{"species":"Iris-versicolor","id":86,"t":1.5708,"y":7.64},{"species":"Iris-versicolor","id":86,"t":2.0944,"y":3.55},{"species":"Iris-versicolor","id":86,"t":2.618,"y":0.66},{"species":"Iris-versicolor","id":86,"t":3.1416,"y":-0.26},
{"species":"Iris-versicolor","id":87,"t":-3.1416,"y":0.04},{"species":"Iris-versicolor","id":87,"t":-2.618,"y":0.42},{"species":"Iris-versicolor","id":87,"t":-2.0944,"y":1.00},{"species":"Iris-versicolor","id":87,"t":-1.5708,"y":1.64},{"species":"Iris-versicolor","id":87,"t":-1.0472,"y":3.10},{"species":"Iris-versicolor","id":87,"t":-0.5236,"y":5.96},{"species":"Iris-versicolor","id":87,"t":0,"y":9.44},{"species":"Iris-versicolor","id":87,"t":0.5236,"y":11.66},{"species":"Iris-versicolor","id":87,"t":1.0472,"y":11.07},{"species":"Iris-versicolor","id":87,"t":1.5708,"y":7.84},{"species":"Iris-versicolor","id":87,"t":2.0944,"y":3.77},{"species":"Iris-versicolor","id":87,"t":2.618,"y":0.92},{"species":"Iris-versicolor","id":87,"t":3.1416,"y":0.04},
{"species":"Iris-versicolor","id":91,"t":-3.1416,"y":-0.51},{"species":"Iris-versicolor","id":91,"t":-2.618,"y":-0.18},{"species":"Iris-versicolor","id":91,"t":-2.0944,"y":0.48},{"species":"Iris-versicolor","id":91,"t":-1.5708,"y":1.29},{"species":"Iris-versicolor","id":91,"t":-1.0472,"y":2.80},{"species":"Iris-versicolor","id":91,"t":-0.5236,"y":5.36},{"species":"Iris-versicolor","id":91,"t":0,"y":8.29},{"species":"Iris-versicolor","id":91,"t":0.5236,"y":10.04},{"species":"Iris-versicolor","id":91,"t":1.0472,"y":9.38},{"species":"Iris-versicolor","id":91,"t":1.5708,"y":6.49},{"species":"Iris-versicolor","id":91,"t":2.0944,"y":2.90},{"species":"Iris-versicolor","id":91,"t":2.618,"y":0.34},{"species":"Iris-versicolor","id":91,"t":3.1416,"y":-0.51},
{"species":"Iris-versicolor","id":93,"t":-3.1416,"y":0.10},{"species":"Iris-versicolor","id":93,"t":-2.618,"y":0.38},{"species":"Iris-versicolor","id":93,"t":-2.0944,"y":0.89},{"species":"Iris-versicolor","id":93,"t":-1.5708,"y":1.50},{"species":"Iris-versicolor","id":93,"t":-1.0472,"y":2.81},{"species":"Iris-versicolor","id":93,"t":-0.5236,"y":5.23},{"species":"Iris-versicolor","id":93,"t":0,"y":8.10},{"species":"Iris-versicolor","id":93,"t":0.5236,"y":9.90},{"species":"Iris-versicolor","id":93,"t":1.0472,"y":9.39},{"species":"Iris-versicolor","id":93,"t":1.5708,"y":6.70},{"species":"Iris-versicolor","id":93,"t":2.0944,"y":3.31},{"species":"Iris-versicolor","id":93,"t":2.618,"y":0.90},{"species":"Iris-versicolor","id":93,"t":3.1416,"y":0.10},
{"species":"Iris-versicolor","id":97,"t":-3.1416,"y":-0.17},{"species":"Iris-versicolor","id":97,"t":-2.618,"y":0.07},{"species":"Iris-versicolor","id":97,"t":-2.0944,"y":0.54},{"species":"Iris-versicolor","id":97,"t":-1.5708,"y":1.13},{"species":"Iris-versicolor","id":97,"t":-1.0472,"y":2.49},{"species":"Iris-versicolor","id":97,"t":-0.5236,"y":5.09},{"species":"Iris-versicolor","id":97,"t":0,"y":8.23},{"species":"Iris-versicolor","id":97,"t":0.5236,"y":10.24},{"species":"Iris-versicolor","id":97,"t":1.0472,"y":9.77},{"species":"Iris-versicolor","id":97,"t":1.5708,"y":6.93},{"species":"Iris-versicolor","id":97,"t":2.0944,"y":3.32},{"species":"Iris-versicolor","id":97,"t":2.618,"y":0.72},{"species":"Iris-versicolor","id":97,"t":3.1416,"y":-0.17},
{"species":"Iris-versicolor","id":99,"t":-3.1416,"y":0.61},{"species":"Iris-versicolor","id":99,"t":-2.618,"y":0.71},{"species":"Iris-versicolor","id":99,"t":-2.0944,"y":0.89},{"species":"Iris-versicolor","id":99,"t":-1.5708,"y":1.11},{"species":"Iris-versicolor","id":99,"t":-1.0472,"y":1.99},{"species":"Iris-versicolor","id":99,"t":-0.5236,"y":4.00},{"species":"Iris-versicolor","id":99,"t":0,"y":6.61},{"species":"Iris-versicolor","id":99,"t":0.5236,"y":8.41},{"species":"Iris-versicolor","id":99,"t":1.0472,"y":8.22},{"species":"Iris-versicolor","id":99,"t":1.5708,"y":6.11},{"species":"Iris-versicolor","id":99,"t":2.0944,"y":3.32},{"species":"Iris-versicolor","id":99,"t":2.618,"y":1.31},{"species":"Iris-versicolor","id":99,"t":3.1416,"y":0.61},
{"species":"Iris-virginica","id":101,"t":-3.1416,"y":-1.55},{"species":"Iris-virginica","id":101,"t":-2.618,"y":-0.23},{"species":"Iris-virginica","id":101,"t":-2.0944,"y":0.76},{"species":"Iris-virginica","id":101,"t":-1.5708,"y":1.15},{"species":"Iris-virginica","id":101,"t":-1.0472,"y":2.43},{"species":"Iris-virginica","id":101,"t":-0.5236,"y":5.84},{"species":"Iris-virginica","id":101,"t":0,"y":10.45},{"species":"Iris-virginica","id":101,"t":0.5236,"y":13.47},{"species":"Iris-virginica","id":101,"t":1.0472,"y":12.48},{"species":"Iris-virginica","id":101,"t":1.5708,"y":7.75},{"species":"Iris-virginica","id":101,"t":2.0944,"y":2.15},{"species":"Iris-virginica","id":101,"t":2.618,"y":-1.26},{"species":"Iris-virginica","id":101,"t":3.1416,"y":-1.55},
{"species":"Iris-virginica","id":102,"t":-3.1416,"y":-1.00},{"species":"Iris-virginica","id":102,"t":-2.618,"y":-0.02},{"species":"Iris-virginica","id":102,"t":-2.0944,"y":0.86},{"species":"Iris-virginica","id":102,"t":-1.5708,"y":1.40},{"species":"Iris-virginica","id":102,"t":-1.0472,"y":2.67},{"species":"Iris-virginica","id":102,"t":-0.5236,"y":5.52},{"species":"Iris-virginica","id":102,"t":0,"y":9.20},{"species":"Iris-virginica","id":102,"t":0.5236,"y":11.51},{"species":"Iris-virginica","id":102,"t":1.0472,"y":10.63},{"species":"Iris-virginica","id":102,"t":1.5708,"y":6.80},{"species":"Iris-virginica","id":102,"t":2.0944,"y":2.24},{"species":"Iris-virginica","id":102,"t":2.618,"y":-0.61},{"species":"Iris-virginica","id":102,"t":3.1416,"y":-1.00},
{"species":"Iris-virginica","id":103,"t":-3.1416,"y":-0.88},{"species":"Iris-virginica","id":103,"t":-2.618,"y":0.23},{"species":"Iris-virginica","id":103,"t":-2.0944,"y":1.29},{"species":"Iris-virginica","id":103,"t":-1.5708,"y":2.02},{"species":"Iris-virginica","id":103,"t":-1.0472,"y":3.55},{"species":"Iris-virginica","id":103,"t":-0.5236,"y":6.81},{"species":"Iris-virginica","id":103,"t":0,"y":10.92},{"species":"Iris-virginica","id":103,"t":0.5236,"y":13.45},{"species":"Iris-virginica","id":103,"t":1.0472,"y":12.39},{"species":"Iris-virginica","id":103,"t":1.5708,"y":8.02},{"species":"Iris-virginica","id":103,"t":2.0944,"y":2.85},{"species":"Iris-virginica","id":103,"t":2.618,"y":-0.41},{"species":"Iris-virginica","id":103,"t":3.1416,"y":-0.88},
{"species":"Iris-virginica","id":104,"t":-3.1416,"y":-1.15},{"species":"Iris-virginica","id":104,"t":-2.618,"y":-0.29},{"species":"Iris-virginica","id":104,"t":-2.0944,"y":0.70},{"species":"Iris-virginica","id":104,"t":-1.5708,"y":1.55},{"species":"Iris-virginica","id":104,"t":-1.0472,"y":3.18},{"species":"Iris-virginica","id":104,"t":-0.5236,"y":6.30},{"species":"Iris-virginica","id":104,"t":0,"y":10.05},{"species":"Iris-virginica","id":104,"t":0.5236,"y":12.31},{"species":"Iris-virginica","id":104,"t":1.0472,"y":11.33},{"species":"Iris-virginica","id":104,"t":1.5708,"y":7.35},{"species":"Iris-virginica","id":104,"t":2.0944,"y":2.61},{"species":"Iris-virginica","id":104,"t":2.618,"y":-0.50},{"species":"Iris-virginica","id":104,"t":3.1416,"y":-1.15},
{"species":"Iris-virginica","id":105,"t":-3.1416,"y":-1.20},{"species":"Iris-virginica","id":105,"t":-2.618,"y":-0.02},{"species":"Iris-virginica","id":105,"t":-2.0944,"y":1.00},{"species":"Iris-virginica","id":105,"t":-1.5708,"y":1.60},{"species":"Iris-virginica","id":105,"t":-1.0472,"y":2.99},{"species":"Iris-virginica","id":105,"t":-0.5236,"y":6.21},{"species":"Iris-virginica","id":105,"t":0,"y":10.40},{"species":"Iris-virginica","id":105,"t":0.5236,"y":13.02},{"species":"Iris-virginica","id":105,"t":1.0472,"y":12.00},{"species":"Iris-virginica","id":105,"t":1.5708,"y":7.60},{"species":"Iris-virginica","id":105,"t":2.0944,"y":2.39},{"species":"Iris-virginica","id":105,"t":2.618,"y":-0.83},{"species":"Iris-virginica","id":105,"t":3.1416,"y":-1.20},
{"species":"Iris-virginica","id":106,"t":-3.1416,"y":-1.23},{"species":"Iris-virginica","id":106,"t":-2.618,"y":-0.02},{"species":"Iris-virginica","id":106,"t":-2.0944,"y":1.29},{"species":"Iris-virginica","id":106,"t":-1.5708,"y":2.37},{"species":"Iris-virginica","id":106,"t":-1.0472,"y":4.26},{"species":"Iris-virginica","id":106,"t":-0.5236,"y":7.77},{"species":"Iris-virginica","id":106,"t":0,"y":11.97},{"species":"Iris-virginica","id":106,"t":0.5236,"y":14.41},{"species":"Iris-virginica","id":106,"t":1.0472,"y":13.09},{"species":"Iris-virginica","id":106,"t":1.5708,"y":8.37},{"species":"Iris-virginica","id":106,"t":2.0944,"y":2.85},{"species":"Iris-virginica","id":106,"t":2.618,"y":-0.66},{"species":"Iris-virginica","id":106,"t":3.1416,"y":-1.23},
{"species":"Iris-virginica","id":107,"t":-3.1416,"y":-1.04},{"species":"Iris-virginica","id":107,"t":-2.618,"y":-0.21},{"species":"Iris-virginica","id":107,"t":-2.0944,"y":0.52},{"species":"Iris-virginica","id":107,"t":-1.5708,"y":0.96},{"species":"Iris-virginica","id":107,"t":-1.0472,"y":2.08},{"species":"Iris-virginica","id":107,"t":-0.5236,"y":4.64},{"species":"Iris-virginica","id":107,"t":0,"y":7.96},{"species":"Iris-virginica","id":107,"t":0.5236,"y":10.08},{"species":"Iris-virginica","id":107,"t":1.0472,"y":9.35},{"species":"Iris-virginica","id":107,"t":1.5708,"y":5.96},{"species":"Iris-virginica","id":107,"t":2.0944,"y":1.91},{"species":"Iris-virginica","id":107,"t":2.618,"y":-0.65},{"species":"Iris-virginica","id":107,"t":3.1416,"y":-1.04},
{"species":"Iris-virginica","id":108,"t":-3.1416,"y":-1.14},{"species":"Iris-virginica","id":108,"t":-2.618,"y":-0.19},{"species":"Iris-virginica","id":108,"t":-2.0944,"y":1.06},{"species":"Iris-virginica","id":108,"t":-1.5708,"y":2.26},{"species":"Iris-virginica","id":108,"t":-1.0472,"y":4.24},{"species":"Iris-virginica","id":108,"t":-0.5236,"y":7.61},{"species":"Iris-virginica","id":108,"t":0,"y":11.46},{"species":"Iris-virginica","id":108,"t":0.5236,"y":13.63},{"species":"Iris-virginica","id":108,"t":1.0472,"y":12.38},{"species":"Iris-virginica","id":108,"t":1.5708,"y":8.06},{"species":"Iris-virginica","id":108,"t":2.0944,"y":2.96},{"species":"Iris-virginica","id":108,"t":2.618,"y":-0.40},{"species":"Iris-virginica","id":108,"t":3.1416,"y":-1.14},
{"species":"Iris-virginica","id":109,"t":-3.1416,"y":-1.06},{"species":"Iris-virginica","id":109,"t":-2.618,"y":0.02},{"species":"Iris-virginica","id":109,"t":-2.0944,"y":1.23},{"species":"Iris-virginica","id":109,"t":-1.5708,"y":2.24},{"species":"Iris-virginica","id":109,"t":-1.0472,"y":3.91},{"species":"Iris-virginica","id":109,"t":-0.5236,"y":6.95},{"species":"Iris-virginica","id":109,"t":0,"y":10.54},{"species":"Iris-virginica","id":109,"t":0.5236,"y":12.57},{"species":"Iris-virginica","id":109,"t":1.0472,"y":11.36},{"species":"Iris-virginica","id":109,"t":1.5708,"y":7.24},{"species":"Iris-virginica","id":109,"t":2.0944,"y":2.44},{"species":"Iris-virginica","id":109,"t":2.618,"y":-0.59},{"species":"Iris-virginica","id":109,"t":3.1416,"y":-1.06},
{"species":"Iris-virginica","id":110,"t":-3.1416,"y":-1.01},{"species":"Iris-virginica","id":110,"t":-2.618,"y":0.17},{"species":"Iris-virginica","id":110,"t":-2.0944,"y":1.09},{"species":"Iris-virginica","id":110,"t":-1.5708,"y":1.49},{"species":"Iris-virginica","id":110,"t":-1.0472,"y":2.86},{"species":"Iris-virginica","id":110,"t":-0.5236,"y":6.41},{"species":"Iris-virginica","id":110,"t":0,"y":11.19},{"species":"Iris-virginica","id":110,"t":0.5236,"y":14.34},{"species":"Iris-virginica","id":110,"t":1.0472,"y":13.42},{"species":"Iris-virginica","id":110,"t":1.5708,"y":8.69},{"species":"Iris-virginica","id":110,"t":2.0944,"y":2.99},{"species":"Iris-virginica","id":110,"t":2.618,"y":-0.56},{"species":"Iris-virginica","id":110,"t":3.1416,"y":-1.01},
{"species":"Iris-virginica","id":111,"t":-3.1416,"y":-0.50},{"species":"Iris-virginica","id":111,"t":-2.618,"y":0.31},{"species":"Iris-virginica","id":111,"t":-2.0944,"y":1.01},{"species":"Iris-virginica","id":111,"t":-1.5708,"y":1.40},{"species":"Iris-virginica","id":111,"t":-1.0472,"y":2.64},{"species":"Iris-virginica","id":111,"t":-0.5236,"y":5.68},{"species":"Iris-virginica","id":111,"t":0,"y":9.70},{"species":"Iris-virginica","id":111,"t":0.5236,"y":12.34},{"species":"Iris-virginica","id":111,"t":1.0472,"y":11.65},{"species":"Iris-virginica","id":111,"t":1.5708,"y":7.80},{"species":"Iris-virginica","id":111,"t":2.0944,"y":3.09},{"species":"Iris-virginica","id":111,"t":2.618,"y":0.05},{"species":"Iris-virginica","id":111,"t":3.1416,"y":-0.50},
{"species":"Iris-virginica","id":113,"t":-3.1416,"y":-0.69},{"species":"Iris-virginica","id":113,"t":-2.618,"y":0.36},{"species":"Iris-virginica","id":113,"t":-2.0944,"y":1.28},{"species":"Iris-virginica","id":113,"t":-1.5708,"y":1.81},{"species":"Iris-virginica","id":113,"t":-1.0472,"y":3.14},{"species":"Iris-virginica","id":113,"t":-0.5236,"y":6.25},{"species":"Iris-virginica","id":113,"t":0,"y":10.31},{"species":"Iris-virginica","id":113,"t":0.5236,"y":12.89},{"species":"Iris-virginica","id":113,"t":1.0472,"y":11.97},{"species":"Iris-virginica","id":113,"t":1.5708,"y":7.81},{"species":"Iris-virginica","id":113,"t":2.0944,"y":2.84},{"species":"Iris-virginica","id":113,"t":2.618,"y":-0.27},{"species":"Iris-virginica","id":113,"t":3.1416,"y":-0.69},
{"species":"Iris-virginica","id":114,"t":-3.1416,"y":-0.97},{"species":"Iris-virginica","id":114,"t":-2.618,"y":0.18},{"species":"Iris-virginica","id":114,"t":-2.0944,"y":1.10},{"species":"Iris-virginica","id":114,"t":-1.5708,"y":1.53},{"species":"Iris-virginica","id":114,"t":-1.0472,"y":2.63},{"species":"Iris-virginica","id":114,"t":-0.5236,"y":5.38},{"species":"Iris-virginica","id":114,"t":0,"y":9.03},{"species":"Iris-virginica","id":114,"t":0.5236,"y":11.34},{"species":"Iris-virginica","id":114,"t":1.0472,"y":10.43},{"species":"Iris-virginica","id":114,"t":1.5708,"y":6.53},{"species":"Iris-virginica","id":114,"t":2.0944,"y":1.96},{"species":"Iris-virginica","id":114,"t":2.618,"y":-0.78},{"species":"Iris-virginica","id":114,"t":3.1416,"y":-0.97},
{"species":"Iris-virginica","id":115,"t":-3.1416,"y":-1.00},{"species":"Iris-virginica","id":115,"t":-2.618,"y":0.36},{"species":"Iris-virginica","id":115,"t":-2.0944,"y":1.20},{"species":"Iris-virginica","id":115,"t":-1.5708,"y":1.30},{"species":"Iris-virginica","id":115,"t":-1.0472,"y":2.15},{"species":"Iris-virginica","id":115,"t":-0.5236,"y":5.04},{"species":"Iris-virginica","id":115,"t":0,"y":9.20},{"species":"Iris-virginica","id":115,"t":0.5236,"y":12.00},{"species":"Iris-virginica","id":115,"t":1.0472,"y":11.15},{"species":"Iris-virginica","id":115,"t":1.5708,"y":6.90},{"species":"Iris-virginica","id":115,"t":2.0944,"y":1.90},{"species":"Iris-virginica","id":115,"t":2.618,"y":-0.99},{"species":"Iris-virginica","id":115,"t":3.1416,"y":-1.00},
{"species":"Iris-virginica","id":116,"t":-3.1416,"y":-0.77},{"species":"Iris-virginica","id":116,"t":-2.618,"y":0.33},{"species":"Iris-virginica","id":116,"t":-2.0944,"y":1.10},{"species":"Iris-virginica","id":116,"t":-1.5708,"y":1.33},{"species":"Iris-virginica","id":116,"t":-1.0472,"y":2.41},{"species":"Iris-virginica","id":116,"t":-0.5236,"y":5.52},{"species":"Iris-virginica","id":116,"t":0,"y":9.83},{"species":"Iris-virginica","id":116,"t":0.5236,"y":12.71},{"species":"Iris-virginica","id":116,"t":1.0472,"y":11.94},{"species":"Iris-virginica","id":116,"t":1.5708,"y":7.73},{"species":"Iris-virginica","id":116,"t":2.0944,"y":2.65},{"species":"Iris-virginica","id":116,"t":2.618,"y":-0.46},{"species":"Iris-virginica","id":116,"t":3.1416,"y":-0.77},
{"species":"Iris-virginica","id":118,"t":-3.1416,"y":-1.26},{"species":"Iris-virginica","id":118,"t":-2.618,"y":-0.35},{"species":"Iris-virginica","id":118,"t":-2.0944,"y":0.71},{"species":"Iris-virginica","id":118,"t":-1.5708,"y":1.64},{"species":"Iris-virginica","id":118,"t":-1.0472,"y":3.60},{"species":"Iris-virginica","id":118,"t":-0.5236,"y":7.44},{"species":"Iris-virginica","id":118,"t":0,"y":12.14},{"species":"Iris-virginica","id":118,"t":0.5236,"y":15.05},{"species":"Iris-virginica","id":118,"t":1.0472,"y":13.99},{"species":"Iris-virginica","id":118,"t":1.5708,"y":9.24},{"species":"Iris-virginica","id":118,"t":2.0944,"y":3.48},{"species":"Iris-virginica","id":118,"t":2.618,"y":-0.36},{"species":"Iris-virginica","id":118,"t":3.1416,"y":-1.26},
{"species":"Iris-virginica","id":119,"t":-3.1416,"y":-1.46},{"species":"Iris-virginica","id":119,"t":-2.618,"y":0.16},{"species":"Iris-virginica","id":119,"t":-2.0944,"y":1.73},{"species":"Iris-virginica","id":119,"t":-1.5708,"y":2.84},{"species":"Iris-virginica","id":119,"t":-1.0472,"y":4.65},{"species":"Iris-virginica","id":119,"t":-0.5236,"y":8.13},{"species":"Iris-virginica","id":119,"t":0,"y":12.34},{"species":"Iris-virginica","id":119,"t":0.5236,"y":14.71},{"species":"Iris-virginica","id":119,"t":1.0472,"y":13.14},{"species":"Iris-virginica","id":119,"t":1.5708,"y":8.04},{"species":"Iris-virginica","id":119,"t":2.0944,"y":2.25},{"species":"Iris-virginica","id":119,"t":2.618,"y":-1.22},{"species":"Iris-virginica","id":119,"t":3.1416,"y":-1.46},
{"species":"Iris-virginica","id":120,"t":-3.1416,"y":-0.76},{"species":"Iris-virginica","id":120,"t":-2.618,"y":0.11},{"species":"Iris-virginica","id":120,"t":-2.0944,"y":1.14},{"species":"Iris-virginica","id":120,"t":-1.5708,"y":2.04},{"species":"Iris-virginica","id":120,"t":-1.0472,"y":3.54},{"species":"Iris-virginica","id":120,"t":-0.5236,"y":6.17},{"species":"Iris-virginica","id":120,"t":0,"y":9.24},{"species":"Iris-virginica","id":120,"t":0.5236,"y":10.97},{"species":"Iris-virginica","id":120,"t":1.0472,"y":9.95},{"species":"Iris-virginica","id":120,"t":1.5708,"y":6.44},{"species":"Iris-virginica","id":120,"t":2.0944,"y":2.35},{"species":"Iris-virginica","id":120,"t":2.618,"y":-0.29},{"species":"Iris-virginica","id":120,"t":3.1416,"y":-0.76},
{"species":"Iris-virginica","id":121,"t":-3.1416,"y":-0.82},{"species":"Iris-virginica","id":121,"t":-2.618,"y":0.33},{"species":"Iris-virginica","id":121,"t":-2.0944,"y":1.25},{"species":"Iris-virginica","id":121,"t":-1.5708,"y":1.68},{"species":"Iris-virginica","id":121,"t":-1.0472,"y":2.97},{"species":"Iris-virginica","id":121,"t":-0.5236,"y":6.22},{"species":"Iris-virginica","id":121,"t":0,"y":10.58},{"species":"Iris-virginica","id":121,"t":0.5236,"y":13.41},{"species":"Iris-virginica","id":121,"t":1.0472,"y":12.49},{"species":"Iris-virginica","id":121,"t":1.5708,"y":8.08},{"species":"Iris-virginica","id":121,"t":2.0944,"y":2.81},{"species":"Iris-virginica","id":121,"t":2.618,"y":-0.45},{"species":"Iris-virginica","id":121,"t":3.1416,"y":-0.82},
{"species":"Iris-virginica","id":122,"t":-3.1416,"y":-0.94},{"species":"Iris-virginica","id":122,"t":-2.618,"y":0.05},{"species":"Iris-virginica","id":122,"t":-2.0944,"y":0.82},{"species":"Iris-virginica","id":122,"t":-1.5708,"y":1.16},{"species":"Iris-virginica","id":122,"t":-1.0472,"y":2.25},{"species":"Iris-virginica","id":122,"t":-0.5236,"y":5.07},{"species":"Iris-virginica","id":122,"t":0,"y":8.86},{"species":"Iris-virginica","id":122,"t":0.5236,"y":11.34},{"species":"Iris-virginica","id":122,"t":1.0472,"y":10.57},{"species":"Iris-virginica","id":122,"t":1.5708,"y":6.76},{"species":"Iris-virginica","id":122,"t":2.0944,"y":2.20},{"species":"Iris-virginica","id":122,"t":2.618,"y":-0.62},{"species":"Iris-virginica","id":122,"t":3.1416,"y":-0.94},
{"species":"Iris-virginica","id":123,"t":-3.1416,"y":-1.26},{"species":"Iris-virginica","id":123,"t":-2.618,"y":-0.03},{"species":"Iris-virginica","id":123,"t":-2.0944,"y":1.40},{"species":"Iris-virginica","id":123,"t":-1.5708,"y":2.64},{"species":"Iris-virginica","id":123,"t":-1.0472,"y":4.64},{"species":"Iris-virginica","id":123,"t":-0.5236,"y":8.11},{"species":"Iris-virginica","id":123,"t":0,"y":12.14},{"species":"Iris-virginica","id":123,"t":0.5236,"y":14.38},{"species":"Iris-virginica","id":123,"t":1.0472,"y":12.95},{"species":"Iris-virginica","id":123,"t":1.5708,"y":8.24},{"species":"Iris-virginica","id":123,"t":2.0944,"y":2.79},{"species":"Iris-virginica","id":123,"t":2.618,"y":-0.69},{"species":"Iris-virginica","id":123,"t":3.1416,"y":-1.26},
{"species":"Iris-virginica","id":125,"t":-3.1416,"y":-0.96},{"species":"Iris-virginica","id":125,"t":-2.618,"y":-0.03},{"species":"Iris-virginica","id":125,"t":-2.0944,"y":0.85},{"species":"Iris-virginica","id":125,"t":-1.5708,"y":1.44},{"species":"Iris-virginica","id":125,"t":-1.0472,"y":2.91},{"species":"Iris-virginica","id":125,"t":-0.5236,"y":6.21},{"species":"Iris-virginica","id":125,"t":0,"y":10.44},{"species":"Iris-virginica","id":125,"t":0.5236,"y":13.14},{"species":"Iris-virginica","id":125,"t":1.0472,"y":12.26},{"species":"Iris-virginica","id":125,"t":1.5708,"y":8.04},{"species":"Iris-virginica","id":125,"t":2.0944,"y":2.93},{"species":"Iris-virginica","id":125,"t":2.618,"y":-0.37},{"species":"Iris-virginica","id":125,"t":3.1416,"y":-0.96},
{"species":"Iris-virginica","id":126,"t":-3.1416,"y":-0.91},{"species":"Iris-virginica","id":126,"t":-2.618,"y":-0.15},{"species":"Iris-virginica","id":126,"t":-2.0944,"y":0.88},{"species":"Iris-virginica","id":126,"t":-1.5708,"y":1.89},{"species":"Iris-virginica","id":126,"t":-1.0472,"y":3.76},{"species":"Iris-virginica","id":126,"t":-0.5236,"y":7.13},{"species":"Iris-virginica","id":126,"t":0,"y":11.09},{"species":"Iris-virginica","id":126,"t":0.5236,"y":13.45},{"species":"Iris-virginica","id":126,"t":1.0472,"y":12.42},{"species":"Iris-virginica","id":126,"t":1.5708,"y":8.29},{"species":"Iris-virginica","id":126,"t":2.0944,"y":3.30},{"species":"Iris-virginica","id":126,"t":2.618,"y":-0.06},{"species":"Iris-virginica","id":126,"t":3.1416,"y":-0.91},
{"species":"Iris-virginica","id":129,"t":-3.1416,"y":-1.07},{"species":"Iris-virginica","id":129,"t":-2.618,"y":0.09},{"species":"Iris-virginica","id":129,"t":-2.0944,"y":1.12},{"species":"Iris-virginica","id":129,"t":-1.5708,"y":1.73},{"species":"Iris-virginica","id":129,"t":-1.0472,"y":3.08},{"species":"Iris-virginica","id":129,"t":-0.5236,"y":6.16},{"species":"Iris-virginica","id":129,"t":0,"y":10.13},{"species":"Iris-virginica","id":129,"t":0.5236,"y":12.59},{"species":"Iris-virginica","id":129,"t":1.0472,"y":11.57},{"species":"Iris-virginica","id":129,"t":1.5708,"y":7.33},{"species":"Iris-virginica","id":129,"t":2.0944,"y":2.33},{"species":"Iris-virginica","id":129,"t":2.618,"y":-0.74},{"species":"Iris-virginica","id":129,"t":3.1416,"y":-1.07},
{"species":"Iris-virginica","id":131,"t":-3.1416,"y":-0.87},{"species":"Iris-virginica","id":131,"t":-2.618,"y":0.20},{"species":"Iris-virginica","id":131,"t":-2.0944,"y":1.40},{"species":"Iris-virginica","id":131,"t":-1.5708,"y":2.43},{"species":"Iris-virginica","id":131,"t":-1.0472,"y":4.21},{"species":"Iris-virginica","id":131,"t":-0.5236,"y":7.47},{"species":"Iris-virginica","id":131,"t":0,"y":11.33},{"species":"Iris-virginica","id":131,"t":0.5236,"y":13.56},{"species":"Iris-virginica","id":131,"t":1.0472,"y":12.35},{"species":"Iris-virginica","id":131,"t":1.5708,"y":8.03},{"species":"Iris-virginica","id":131,"t":2.0944,"y":2.96},{"species":"Iris-virginica","id":131,"t":2.618,"y":-0.30},{"species":"Iris-virginica","id":131,"t":3.1416,"y":-0.87},
{"species":"Iris-virginica","id":132,"t":-3.1416,"y":-0.81},{"species":"Iris-virginica","id":132,"t":-2.618,"y":-0.12},{"species":"Iris-virginica","id":132,"t":-2.0944,"y":0.83},{"species":"Iris-virginica","id":132,"t":-1.5708,"y":1.79},{"species":"Iris-virginica","id":132,"t":-1.0472,"y":3.76},{"species":"Iris-virginica","id":132,"t":-0.5236,"y":7.50},{"species":"Iris-virginica","id":132,"t":0,"y":11.99},{"species":"Iris-virginica","id":132,"t":0.5236,"y":14.76},{"species":"Iris-virginica","id":132,"t":1.0472,"y":13.81},{"species":"Iris-virginica","id":132,"t":1.5708,"y":9.39},{"species":"Iris-virginica","id":132,"t":2.0944,"y":3.94},{"species":"Iris-virginica","id":132,"t":2.618,"y":0.21},{"species":"Iris-virginica","id":132,"t":3.1416,"y":-0.81},
{"species":"Iris-virginica","id":135,"t":-3.1416,"y":-1.29},{"species":"Iris-virginica","id":135,"t":-2.618,"y":-0.62},{"species":"Iris-virginica","id":135,"t":-2.0944,"y":0.47},{"species":"Iris-virginica","id":135,"t":-1.5708,"y":1.71},{"species":"Iris-virginica","id":135,"t":-1.0472,"y":3.65},{"species":"Iris-virginica","id":135,"t":-0.5236,"y":6.65},{"species":"Iris-virginica","id":135,"t":0,"y":9.91},{"species":"Iris-virginica","id":135,"t":0.5236,"y":11.68},{"species":"Iris-virginica","id":135,"t":1.0472,"y":10.58},{"species":"Iris-virginica","id":135,"t":1.5708,"y":6.91},{"species":"Iris-virginica","id":135,"t":2.0944,"y":2.55},{"species":"Iris-virginica","id":135,"t":2.618,"y":-0.45},{"species":"Iris-virginica","id":135,"t":3.1416,"y":-1.29},
{"species":"Iris-virginica","id":136,"t":-3.1416,"y":-0.66},{"species":"Iris-virginica","id":136,"t":-2.618,"y":0.65},{"species":"Iris-virginica","id":136,"t":-2.0944,"y":1.79},{"species":"Iris-virginica","id":136,"t":-1.5708,"y":2.44},{"species":"Iris-virginica","id":136,"t":-1.0472,"y":3.90},{"species":"Iris-virginica","id":136,"t":-0.5236,"y":7.24},{"species":"Iris-virginica","id":136,"t":0,"y":11.54},{"species":"Iris-virginica","id":136,"t":0.5236,"y":14.22},{"species":"Iris-virginica","id":136,"t":1.0472,"y":13.08},{"species":"Iris-virginica","id":136,"t":1.5708,"y":8.44},{"species":"Iris-virginica","id":136,"t":2.0944,"y":3.00},{"species":"Iris-virginica","id":136,"t":2.618,"y":-0.33},{"species":"Iris-virginica","id":136,"t":3.1416,"y":-0.66},
{"species":"Iris-virginica","id":137,"t":-3.1416,"y":-1.15},{"species":"Iris-virginica","id":137,"t":-2.618,"y":-0.02},{"species":"Iris-virginica","id":137,"t":-2.0944,"y":0.79},{"species":"Iris-virginica","id":137,"t":-1.5708,"y":1.05},{"species":"Iris-virginica","id":137,"t":-1.0472,"y":2.23},{"species":"Iris-virginica","id":137,"t":-0.5236,"y":5.53},{"species":"Iris-virginica","id":137,"t":0,"y":10.05},{"species":"Iris-virginica","id":137,"t":0.5236,"y":13.08},{"species":"Iris-virginica","id":137,"t":1.0472,"y":12.28},{"species":"Iris-virginica","id":137,"t":1.5708,"y":7.85},{"species":"Iris-virginica","id":137,"t":2.0944,"y":2.52},{"species":"Iris-virginica","id":137,"t":2.618,"y":-0.77},{"species":"Iris-virginica","id":137,"t":3.1416,"y":-1.15},
{"species":"Iris-virginica","id":140,"t":-3.1416,"y":-0.52},{"species":"Iris-virginica","id":140,"t":-2.618,"y":0.47},{"species":"Iris-virginica","id":140,"t":-2.0944,"y":1.31},{"species":"Iris-virginica","id":140,"t":-1.5708,"y":1.78},{"species":"Iris-virginica","id":140,"t":-1.0472,"y":3.08},{"species":"Iris-virginica","id":140,"t":-0.5236,"y":6.19},{"species":"Iris-virginica","id":140,"t":0,"y":10.28},{"species":"Iris-virginica","id":140,"t":0.5236,"y":12.92},{"species":"Iris-virginica","id":140,"t":1.0472,"y":12.08},{"species":"Iris-virginica","id":140,"t":1.5708,"y":7.98},{"species":"Iris-virginica","id":140,"t":2.0944,"y":3.05},{"species":"Iris-virginica","id":140,"t":2.618,"y":-0.07},{"species":"Iris-virginica","id":140,"t":3.1416,"y":-0.52},
{"species":"Iris-virginica","id":144,"t":-3.1416,"y":-1.09},{"species":"Iris-virginica","id":144,"t":-2.618,"y":0.09},{"species":"Iris-virginica","id":144,"t":-2.0944,"y":1.08},{"species":"Iris-virginica","id":144,"t":-1.5708,"y":1.61},{"species":"Iris-virginica","id":144,"t":-1.0472,"y":3.00},{"species":"Iris-virginica","id":144,"t":-0.5236,"y":6.33},{"species":"Iris-virginica","id":144,"t":0,"y":10.71},{"species":"Iris-virginica","id":144,"t":0.5236,"y":13.51},{"species":"Iris-virginica","id":144,"t":1.0472,"y":12.52},{"species":"Iris-virginica","id":144,"t":1.5708,"y":8.01},{"species":"Iris-virginica","id":144,"t":2.0944,"y":2.64},{"species":"Iris-virginica","id":144,"t":2.618,"y":-0.69},{"species":"Iris-virginica","id":144,"t":3.1416,"y":-1.09},
{"species":"Iris-virginica","id":147,"t":-3.1416,"y":-0.55},{"species":"Iris-virginica","id":147,"t":-2.618,"y":0.52},{"species":"Iris-virginica","id":147,"t":-2.0944,"y":1.44},{"species":"Iris-virginica","id":147,"t":-1.5708,"y":1.95},{"species":"Iris-virginica","id":147,"t":-1.0472,"y":3.14},{"species":"Iris-virginica","id":147,"t":-0.5236,"y":5.89},{"species":"Iris-virginica","id":147,"t":0,"y":9.45},{"species":"Iris-virginica","id":147,"t":0.5236,"y":11.68},{"species":"Iris-virginica","id":147,"t":1.0472,"y":10.77},{"species":"Iris-virginica","id":147,"t":1.5708,"y":6.95},{"species":"Iris-virginica","id":147,"t":2.0944,"y":2.47},{"species":"Iris-virginica","id":147,"t":2.618,"y":-0.27},{"species":"Iris-virginica","id":147,"t":3.1416,"y":-0.55},
{"species":"Iris-virginica","id":148,"t":-3.1416,"y":-0.60},{"species":"Iris-virginica","id":148,"t":-2.618,"y":0.33},{"species":"Iris-virginica","id":148,"t":-2.0944,"y":1.13},{"species":"Iris-virginica","id":148,"t":-1.5708,"y":1.60},{"species":"Iris-virginica","id":148,"t":-1.0472,"y":2.87},{"species":"Iris-virginica","id":148,"t":-0.5236,"y":5.87},{"species":"Iris-virginica","id":148,"t":0,"y":9.80},{"species":"Iris-virginica","id":148,"t":0.5236,"y":12.33},{"species":"Iris-virginica","id":148,"t":1.0472,"y":11.53},{"species":"Iris-virginica","id":148,"t":1.5708,"y":7.60},{"species":"Iris-virginica","id":148,"t":2.0944,"y":2.86},{"species":"Iris-virginica","id":148,"t":2.618,"y":-0.14},{"species":"Iris-virginica","id":148,"t":3.1416,"y":-0.60}
]},
"mark": {"type": "line", "interpolate": "natural", "strokeWidth": 3.6},
"encoding": {
  "x": {"field": "t", "type": "quantitative", "scale": {"domain": [-3.1416, 3.1416], "nice": false, "zero": false}, "axis": {"values": [-3, -2, -1, 0, 1, 2, 3], "format": "d", "labelPadding": 10}},
  "y": {"field": "y", "type": "quantitative", "scale": {"domain": [-2.53, 16.0], "nice": false, "zero": false}, "axis": {"values": [-2.5, 0, 2.5, 5, 7.5, 10, 12.5, 15], "format": ".1f", "labelPadding": 10}},
  "color": {"field": "species", "type": "nominal", "scale": {"domain": ["Iris-setosa", "Iris-versicolor", "Iris-virginica"], "range": ["#8db89d", "#6cb800", "#6b0a8b"]},
    "legend": {"title": null, "orient": "none", "legendX": 664.5, "legendY": 13, "symbolType": "M-2,0H2", "symbolSize": 784, "symbolStrokeWidth": 4, "symbolOffset": 14, "padding": 7, "labelFont": "DejaVu Sans", "labelFontSize": 25.5, "labelColor": "#000", "labelOffset": 33, "rowPadding": 11, "fillColor": "rgba(255,255,255,0.8)", "strokeColor": "#d5d5d5", "cornerRadius": 6, "labelLimit": 400}},
  "detail": {"field": "id", "type": "nominal"}
}
}
